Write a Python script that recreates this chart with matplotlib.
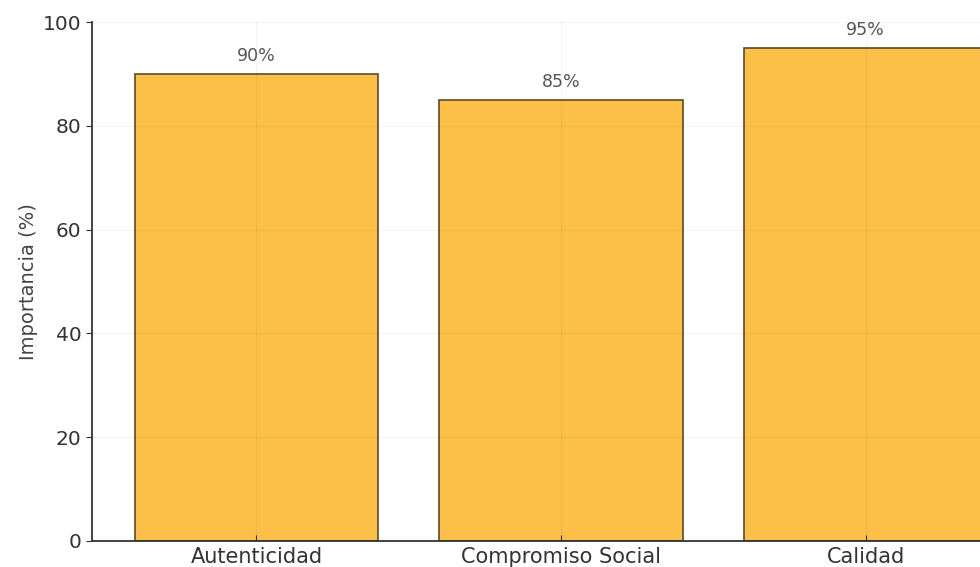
import matplotlib
matplotlib.use("Agg")
import matplotlib.pyplot as plt

categories = ["Autenticidad", "Compromiso Social", "Calidad"]
importance = [90, 85, 95]
value_labels = ["90%", "85%", "95%"]
y_ticks = [0, 20, 40, 60, 80, 100]

fig = plt.figure(figsize=(9.8, 5.67), dpi=100)
# axes run past the right edge, like the cropped original
ax = fig.add_axes([92 / 980, 26 / 567, 938 / 980, 519 / 567])

x = range(len(categories))
ax.bar(x, importance, width=0.8, color="#FCC048",
       edgecolor="#5b4a2c", linewidth=1.2, zorder=2)

for xi, v, lab in zip(x, importance, value_labels):
    ax.text(xi, v + 1.7, lab, ha="center", va="bottom",
            fontsize=12.5, color="#555555", zorder=4)

ax.set_xlim(-0.54, 2.54)
ax.set_ylim(0, 100)
ax.set_xticks(list(x))
ax.set_xticklabels(categories, fontsize=15, color="#333333")
ax.set_yticks(y_ticks)
ax.tick_params(axis="y", labelsize=14.5, colors="#333333", length=4, direction="out")
ax.tick_params(axis="x", length=4, direction="in", pad=4, colors="#333333")
ax.set_ylabel("Importancia (%)", fontsize=14, color="#444444")
ax.yaxis.set_label_coords(-0.058, 0.5)

# faint grid drawn over the bars
ax.grid(True, color="black", alpha=0.045, linewidth=0.9, zorder=3)
ax.set_axisbelow(False)
for side in ["top", "right"]:
    ax.spines[side].set_visible(False)
for side in ["left", "bottom"]:
    ax.spines[side].set_color("#333333")
    ax.spines[side].set_linewidth(1.3)
    ax.spines[side].set_zorder(5)

fig.savefig("out.png", dpi=100)
